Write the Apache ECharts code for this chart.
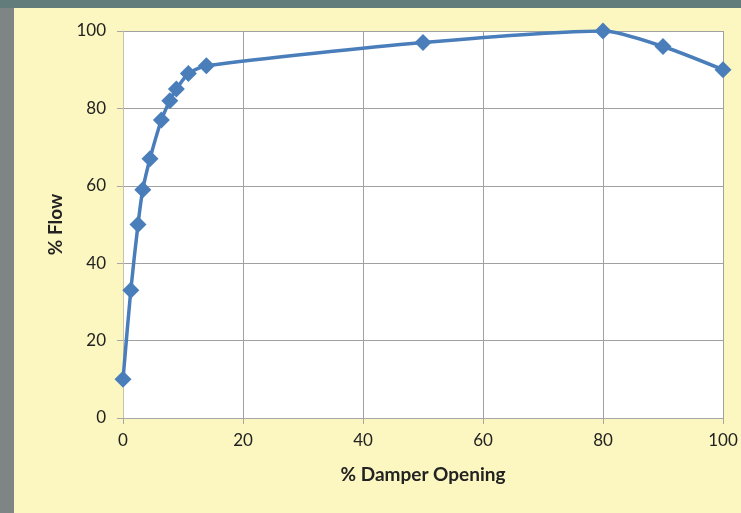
<!DOCTYPE html>
<html>
<head>
<meta charset="utf-8">
<script src="https://cdn.jsdelivr.net/npm/echarts@6/dist/echarts.min.js"></script>
<style>
  html, body { margin: 0; padding: 0; width: 741px; height: 513px; overflow: hidden; background: #627b7b; }
  #leftStrip { position: absolute; left: 0; top: 8px; width: 14px; height: 505px; background: #7e8584; }
  #chart { position: absolute; left: 14px; top: 8px; width: 727px; height: 505px; background: #fcf7c0; }
</style>
</head>
<body>
<div id="leftStrip"></div>
<div id="chart"></div>
<script>
// Damper opening (%) against resulting flow (%)
const damperOpening = [0, 1.3, 2.5, 3.3, 4.5, 6.4, 7.8, 8.9, 10.9, 13.9, 50, 80, 90, 100];
const flowPercent   = [10, 33, 50, 59, 67, 77, 82, 85, 89, 91, 97, 100, 96, 90];
const xTicks = [0, 20, 40, 60, 80, 100];
const yTicks = [0, 20, 40, 60, 80, 100];

const points = damperOpening.map((x, i) => [x, flowPercent[i]]);
const blue = '#4a7ebb';
const textColor = '#222222';
const fontFamily = 'Lato, "Open Sans", sans-serif';

const chart = echarts.init(document.getElementById('chart'), null, { renderer: 'canvas' });
chart.setOption({
  animation: false,
  backgroundColor: '#fcf7c0',
  grid: {
    left: 109, right: 18, top: 23, bottom: 95,
    show: true, backgroundColor: '#ffffff', borderWidth: 0
  },
  xAxis: {
    type: 'value',
    min: xTicks[0], max: xTicks[xTicks.length - 1], interval: 20,
    name: '% Damper Opening',
    nameLocation: 'middle', nameGap: 47,
    nameTextStyle: { color: textColor, fontFamily, fontWeight: 'bold', fontSize: 19 },
    axisLine: { show: true, lineStyle: { color: '#a6a6a6', width: 1 } },
    axisTick: { show: true, length: 6, lineStyle: { color: '#a6a6a6' } },
    axisLabel: { color: textColor, fontFamily, fontSize: 17, margin: 14 },
    splitLine: { show: true, lineStyle: { color: '#a0a0a0', width: 1 } }
  },
  yAxis: {
    type: 'value',
    min: yTicks[0], max: yTicks[yTicks.length - 1], interval: 20,
    name: '% Flow',
    nameLocation: 'middle', nameGap: 57, nameRotate: 90,
    nameTextStyle: { color: textColor, fontFamily, fontWeight: 'bold', fontSize: 19 },
    axisLine: { show: true, lineStyle: { color: '#c9c4a4', width: 1 } },
    axisTick: { show: true, length: 6, lineStyle: { color: '#a6a6a6' } },
    axisLabel: { color: textColor, fontFamily, fontSize: 17, margin: 17 },
    splitLine: { show: true, lineStyle: { color: '#a0a0a0', width: 1 } }
  },
  series: [{
    type: 'line',
    data: points,
    smooth: 0.25,
    symbol: 'diamond',
    symbolSize: 17,
    itemStyle: { color: blue },
    lineStyle: { color: blue, width: 3.5 },
    z: 5
  }]
});
</script>
</body>
</html>
